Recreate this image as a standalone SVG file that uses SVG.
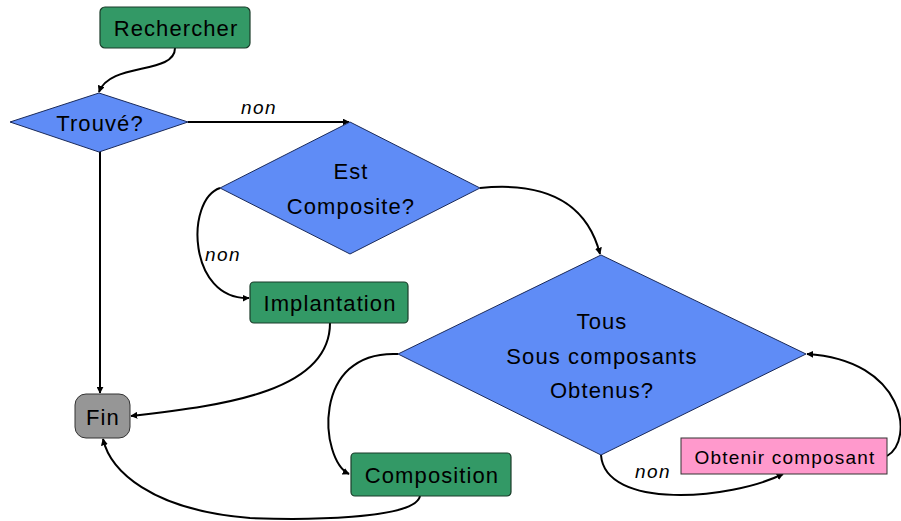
<svg xmlns="http://www.w3.org/2000/svg" width="901" height="521" viewBox="0 0 901 521">
<defs>
<marker id="ah" viewBox="0 0 10 10" refX="9" refY="5" markerWidth="7" markerHeight="7" orient="auto" markerUnits="userSpaceOnUse">
<path d="M0,0 L10,5 L0,10 z" fill="#000"/>
</marker>
<style>
.dia{fill:#5f8cf6;stroke:#1a2a5a;stroke-width:1}
.grn{fill:#339966;stroke:#1b3d2a;stroke-width:1.2}
.t{font-family:"Liberation Sans",Arial,sans-serif;font-size:22px;letter-spacing:1.1px;fill:#000;text-anchor:middle;dominant-baseline:central}
.s{font-size:19px;letter-spacing:1.2px}
.lbl{font-family:"Liberation Sans",Arial,sans-serif;font-size:19px;letter-spacing:1.5px;font-style:italic;fill:#000;text-anchor:middle}
.c{fill:none;stroke:#000;stroke-width:2;marker-end:url(#ah)}
</style>
</defs>
<rect width="901" height="521" fill="#fff"/>
<g id="connectors">
<path class="c" d="M175,48 C175,75 110,62 99,92"/>
<path class="c" d="M188,122 L349,122"/>
<path class="c" d="M220,188 C185,200 188,300 249,298"/>
<path class="c" d="M480,188 C560,180 590,215 600,254"/>
<path class="c" d="M100,152 L100,393"/>
<path class="c" d="M330,323 C330,390 230,405 131,416"/>
<path class="c" d="M398,354 C310,350 320,460 349,474"/>
<path class="c" d="M601,455 C605,510 730,500 783,474"/>
<path class="c" d="M887,456 C915,440 905,360 807,354"/>
<path class="c" d="M420,496 C415,520 300,520 250,518 C150,510 110,470 103,439"/>
<text class="lbl" x="259" y="114">non</text>
<text class="lbl" x="223" y="261">non</text>
<text class="lbl" x="653" y="478">non</text>
</g>
<g id="rechercher">
<rect class="grn" x="100" y="7" width="150" height="41" rx="5"/>
<text class="t" x="176" y="28">Rechercher</text>
</g>
<g id="trouve">
<polygon class="dia" points="99,93 188,122 99,152 10,122"/>
<text class="t" x="100" y="123">Trouvé?</text>
</g>
<g id="estcomposite">
<polygon class="dia" points="350,122 480,188 350,254 220,188"/>
<text class="t" x="351" y="171">Est</text>
<text class="t" x="351" y="206">Composite?</text>
</g>
<g id="implantation">
<rect class="grn" x="250" y="282" width="158" height="41" rx="4"/>
<text class="t" x="330" y="303">Implantation</text>
</g>
<g id="tous">
<polygon class="dia" points="601,255 806,354 601,455 398,354"/>
<text class="t" x="602" y="321">Tous</text>
<text class="t" x="602" y="356">Sous composants</text>
<text class="t" x="602" y="390">Obtenus?</text>
</g>
<g id="composition">
<rect class="grn" x="351" y="453" width="160" height="43" rx="4"/>
<text class="t" x="432" y="475">Composition</text>
</g>
<g id="obtenir">
<rect x="681" y="438" width="206" height="36" fill="#ff99cc" stroke="#333" stroke-width="1"/>
<text class="t s" x="785" y="457">Obtenir composant</text>
</g>
<g id="fin">
<rect x="75" y="394" width="55" height="44" rx="11" fill="#969696" stroke="#333" stroke-width="1"/>
<text class="t" x="103" y="417">Fin</text>
</g>
</svg>
